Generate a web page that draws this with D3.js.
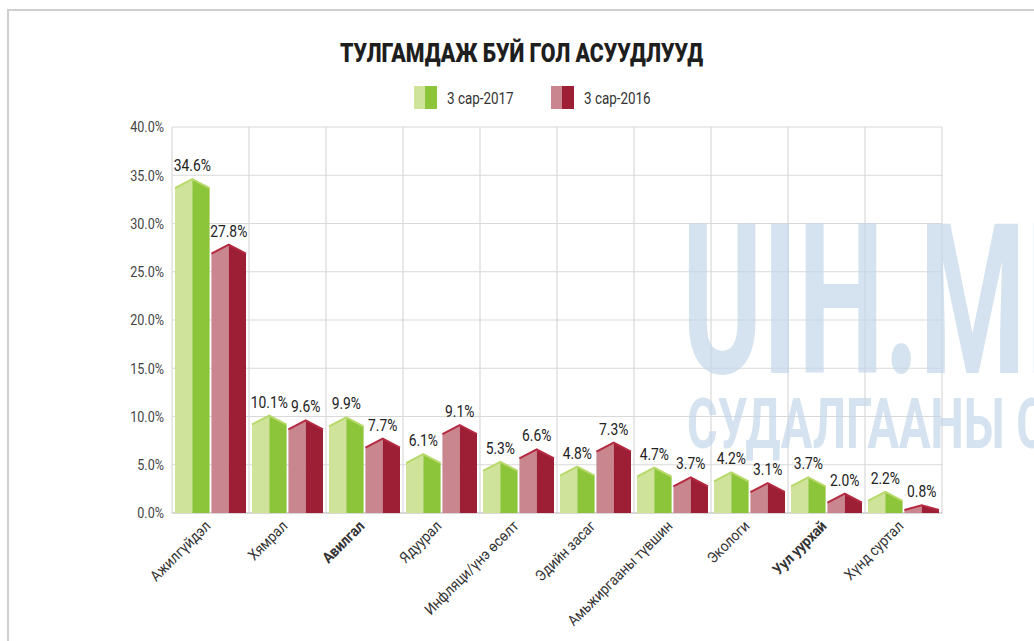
<!DOCTYPE html>
<html>
<head>
<meta charset="utf-8">
<script src="https://cdn.jsdelivr.net/npm/d3@7"></script>
<style>
  body { margin: 0; background: #fff; }
  svg { display: block; }
  text { font-family: "Roboto", "Liberation Sans", sans-serif; }
</style>
</head>
<body>
<svg id="chart" width="1034" height="641"></svg>
<script>
// data
const categories = ["Ажилгүйдэл", "Хямрал", "Авилгал", "Ядуурал", "Инфляци/үнэ өсөлт",
    "Эдийн засаг", "Амьжиргааны түвшин", "Экологи", "Уул уурхай", "Хүнд суртал"];
const seriesNames = ["3 сар-2017", "3 сар-2016"];
const values2017 = [34.6, 10.1, 9.9, 6.1, 5.3, 4.8, 4.7, 4.2, 3.7, 2.2];
const values2016 = [27.8, 9.6, 7.7, 9.1, 6.6, 7.3, 3.7, 3.1, 2.0, 0.8];
const yTicks = [0, 5, 10, 15, 20, 25, 30, 35, 40];
const title = "ТУЛГАМДАЖ БУЙ ГОЛ АСУУДЛУУД";

const svg = d3.select("#chart");
const margin = { top: 127, left: 172, right: 92, bottom: 128 };
const width = 1034 - margin.left - margin.right;
const height = 641 - margin.top - margin.bottom;
const narrow = 0.84; // squeeze text to look like the condensed face

// colours: [light left face, dark right face, roof edge]
const palette = {
    "3 сар-2017": ["#cfe49a", "#8cc43a", "#b7d96a"],
    "3 сар-2016": ["#c9868f", "#9c1f35", "#b52a40"]
};

//frame around the picture
svg.append("rect")
    .attr("x", 8).attr("y", 10)
    .attr("width", 1040).attr("height", 640)
    .attr("fill", "none")
    .attr("stroke", "#cfcfcf")
    .attr("stroke-width", 2);

const x = d3.scaleBand()
    .domain(categories)
    .range([0, width])
    .padding(0);

const xSub = d3.scaleBand()
    .domain(seriesNames)
    .range([3, x.bandwidth() - 3])
    .paddingInner(0.05);

const y = d3.scaleLinear()
    .domain([0, 40])
    .range([height, 0]);

const g = svg.append("g")
    .attr("transform", `translate(${margin.left},${margin.top})`);

//grid lines
g.selectAll(".hgrid")
    .data(yTicks)
    .enter()
    .append("line")
    .attr("class", "hgrid")
    .attr("x1", 0).attr("x2", width)
    .attr("y1", d => y(d)).attr("y2", d => y(d))
    .attr("stroke", "#d9d9d9")
    .attr("stroke-width", 1.2);

g.selectAll(".vgrid")
    .data(d3.range(categories.length + 1))
    .enter()
    .append("line")
    .attr("class", "vgrid")
    .attr("x1", i => i * x.step()).attr("x2", i => i * x.step())
    .attr("y1", 0).attr("y2", height)
    .attr("stroke", "#d9d9d9")
    .attr("stroke-width", 1.2);

g.append("line")
    .attr("x1", 0).attr("x2", width)
    .attr("y1", height).attr("y2", height)
    .attr("stroke", "#c4c4c4");

//watermark, faint, behind the bars
svg.append("text")
    .attr("x", 682).attr("y", 373)
    .attr("textLength", 430)
    .attr("lengthAdjust", "spacingAndGlyphs")
    .style("font-size", "210px")
    .style("font-weight", "bold")
    .attr("fill", "#c4d6ea")
    .attr("opacity", 0.7)
    .text("UIH.MN");

svg.append("text")
    .attr("x", 687).attr("y", 448)
    .attr("textLength", 360)
    .attr("lengthAdjust", "spacingAndGlyphs")
    .style("font-size", "70px")
    .style("font-weight", "bold")
    .attr("fill", "#c4d6ea")
    .attr("opacity", 0.7)
    .text("СУДАЛГААНЫ С");

//y axis labels
g.selectAll(".ylab")
    .data(yTicks)
    .enter()
    .append("text")
    .attr("class", "ylab")
    .attr("transform", d => `translate(-8,${y(d)}) scale(${narrow},1)`)
    .attr("dy", "0.36em")
    .attr("text-anchor", "end")
    .style("font-size", "15px")
    .attr("fill", "#444")
    .text(d => d.toFixed(1) + "%");

//bars: two faces with a pointed roof
const rows = categories.map((c, i) => ({
    cat: c,
    items: [
        { key: seriesNames[0], value: values2017[i] },
        { key: seriesNames[1], value: values2016[i] }
    ]
}));

const groups = g.selectAll(".cat")
    .data(rows)
    .enter()
    .append("g")
    .attr("class", "cat")
    .attr("transform", d => `translate(${x(d.cat)},0)`);

const bar = groups.selectAll(".bar")
    .data(d => d.items)
    .enter()
    .append("g")
    .attr("class", "bar");

function geom(d) {
    const x0 = xSub(d.key), x1 = x0 + xSub.bandwidth(), xm = (x0 + x1) / 2;
    const top = y(d.value), base = y(0);
    const roof = Math.min(9, (base - top) * 0.6);
    return { x0, x1, xm, top, base, roof };
}

bar.append("path")
    .attr("d", d => {
        const s = geom(d);
        return `M${s.x0},${s.base}L${s.x0},${s.top + s.roof}L${s.xm},${s.top}L${s.xm},${s.base}Z`;
    })
    .attr("fill", d => palette[d.key][0]);

bar.append("path")
    .attr("d", d => {
        const s = geom(d);
        return `M${s.xm},${s.base}L${s.xm},${s.top}L${s.x1},${s.top + s.roof}L${s.x1},${s.base}Z`;
    })
    .attr("fill", d => palette[d.key][1]);

bar.append("path")
    .attr("d", d => {
        const s = geom(d);
        return `M${s.x0},${s.top + s.roof}L${s.xm},${s.top}L${s.x1},${s.top + s.roof}`;
    })
    .attr("fill", "none")
    .attr("stroke", d => palette[d.key][2])
    .attr("stroke-width", 2);

//value labels
bar.append("text")
    .attr("transform", d => `translate(${geom(d).xm},${y(d.value) - 8}) scale(${narrow},1)`)
    .attr("text-anchor", "middle")
    .style("font-size", "16.5px")
    .attr("fill", "#222")
    .text(d => d.value.toFixed(1) + "%");

//category labels
const boldCats = new Set(["Авилгал", "Уул уурхай"]);
g.selectAll(".xlab")
    .data(categories)
    .enter()
    .append("text")
    .attr("class", "xlab")
    .attr("transform", d => `translate(${x(d) + x.bandwidth() / 2 + 1},${height + 14}) rotate(-45) scale(0.9,1)`)
    .attr("text-anchor", "end")
    .style("font-size", "15px")
    .style("font-weight", d => boldCats.has(d) ? "bold" : "normal")
    .attr("fill", "#333")
    .text(d => d);

//title
svg.append("text")
    .attr("x", 340)
    .attr("y", 62)
    .attr("textLength", 363)
    .attr("lengthAdjust", "spacingAndGlyphs")
    .style("font-size", "25px")
    .style("font-weight", "900")
    .attr("fill", "#1e1e1e")
    .text(title);

//legend
const legend = svg.selectAll(".legend")
    .data(seriesNames)
    .enter()
    .append("g")
    .attr("class", "legend")
    .attr("transform", (d, i) => `translate(${414 + i * 137},86)`);

legend.append("rect")
    .attr("width", 11).attr("height", 23)
    .attr("fill", d => palette[d][0]);

legend.append("rect")
    .attr("x", 11)
    .attr("width", 12).attr("height", 23)
    .attr("fill", d => palette[d][1]);

legend.append("text")
    .attr("transform", `translate(33,18) scale(${narrow},1)`)
    .style("font-size", "16px")
    .attr("fill", "#333")
    .text(d => d);
</script>
</body>
</html>
